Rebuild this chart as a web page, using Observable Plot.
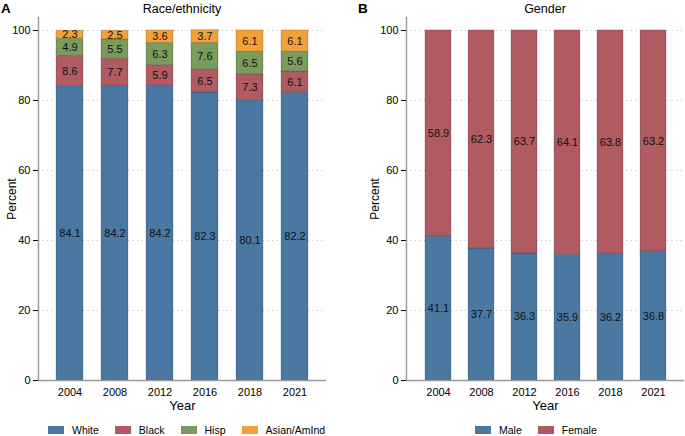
<!DOCTYPE html>
<html><head><meta charset="utf-8">
<script src="https://cdn.jsdelivr.net/npm/d3@7"></script>
<script src="https://cdn.jsdelivr.net/npm/@observablehq/plot@0.6"></script>
<style>
body{margin:0;background:#fff;font-family:"Liberation Sans",Arial,sans-serif;}
#wrap{position:relative;width:685px;height:436px;overflow:hidden;background:#fff}
.panel{position:absolute;top:0}
.ttl{position:absolute;top:2px;font-size:12.5px;color:#000;white-space:nowrap;transform:translateX(-50%)}
.tag{position:absolute;top:1px;font-size:13.5px;font-weight:bold;color:#000}
.leg{position:absolute;top:424px}
.leg > div{min-height:0 !important;margin:0 !important}
.lg-swatch{margin-right:16px !important}
.lg-swatch > svg{margin-right:8px !important}
</style></head>
<body><div id="wrap"></div>
<script>
const years = ["2004", "2008", "2012", "2016", "2018", "2021"];
const raceGroups = ["White", "Black", "Hisp", "Asian/AmInd"];
const white = [84.1, 84.2, 84.2, 82.3, 80.1, 82.2];
const black = [8.6, 7.7, 5.9, 6.5, 7.3, 6.1];
const hisp = [4.9, 5.5, 6.3, 7.6, 6.5, 5.6];
const asian = [2.3, 2.5, 3.6, 3.7, 6.1, 6.1];
const genderGroups = ["Male", "Female"];
const male = [41.1, 37.7, 36.3, 35.9, 36.2, 36.8];
const female = [58.9, 62.3, 63.7, 64.1, 63.8, 63.2];
const yTicks = [0, 20, 40, 60, 80, 100];
const raceColors = ["#4a78a2", "#af5b61", "#7b9b5c", "#f0a13a"];
const genderColors = ["#4a78a2", "#af5b61"];

function table(groups, series) {
  const out = [];
  groups.forEach((g, gi) => years.forEach((y, yi) => out.push({year: y, group: g, value: series[gi][yi]})));
  return out;
}
const raceData = table(raceGroups, [white, black, hisp, asian]);
const genderData = table(genderGroups, [male, female]);

const font = "Liberation Sans, Arial, sans-serif";

function panel(data, groups, colors, width, marginLeft, marginRight, labelDx) {
  return Plot.plot({
    width, height: 412,
    marginTop: 17, marginBottom: 32, marginLeft, marginRight,
    style: {fontFamily: font, fontSize: "11px", color: "#000", background: "transparent", overflow: "visible"},
    x: {domain: years, padding: 0.4, label: null, tickSize: 0, tickPadding: 8},
    y: {domain: [0, 103.7], ticks: yTicks, label: null, tickSize: 5, tickPadding: 3},
    color: {domain: groups, range: colors},
    marks: [
      Plot.gridY(yTicks.filter(d => d > 0), {stroke: "#bdbdbd", strokeOpacity: 1, strokeDasharray: "1,3.5"}),
      Plot.barY(data, {x: "year", y: "value", fill: "group", stroke: "#000", strokeOpacity: 0.18, strokeWidth: 1}),
      Plot.text(data, Plot.stackY({x: "year", y: "value", text: d => d.value.toFixed(1), fontSize: 11, fill: "#111"})),
      Plot.frame({anchor: "left", stroke: "#9a9a9a", strokeWidth: 1.4}),
      Plot.ruleY([0], {stroke: "#9a9a9a", strokeWidth: 1.4}),
      Plot.text(["Percent"], {frameAnchor: "left", rotate: -90, dx: labelDx, textAnchor: "middle", lineAnchor: "middle", fontSize: 12}),
      Plot.text(["Year"], {frameAnchor: "bottom", dy: 25, textAnchor: "middle", lineAnchor: "middle", fontSize: 13})
    ]
  });
}

const wrap = document.getElementById("wrap");

function addPanel(left, svg, tag, title, titleX) {
  const d = document.createElement("div");
  d.className = "panel"; d.style.left = left + "px";
  d.appendChild(svg);
  wrap.appendChild(d);
  const t = document.createElement("div");
  t.className = "tag"; t.textContent = tag; t.style.left = (left + (tag === "A" ? 1 : 18)) + "px";
  wrap.appendChild(t);
  const ti = document.createElement("div");
  ti.className = "ttl"; ti.textContent = title; ti.style.left = titleX + "px";
  wrap.appendChild(ti);
}

addPanel(0, panel(raceData, raceGroups, raceColors, 340, 38, 14, -26), "A", "Race/ethnicity", 182);
addPanel(340, panel(genderData, genderGroups, genderColors, 345, 66, 1, -31), "B", "Gender", 545);

function addLegend(left, groups, colors) {
  const lg = Plot.legend({
    color: {domain: groups, range: colors},
    legend: "swatches", swatchWidth: 16, swatchHeight: 8, className: "lg",
    style: {fontFamily: font, fontSize: "10.5px", color: "#000"}
  });
  const d = document.createElement("div");
  d.className = "leg"; d.style.left = left + "px";
  d.appendChild(lg);
  wrap.appendChild(d);
}
addLegend(48, raceGroups, raceColors);
addLegend(475, genderGroups, genderColors);
</script>
</body></html>
